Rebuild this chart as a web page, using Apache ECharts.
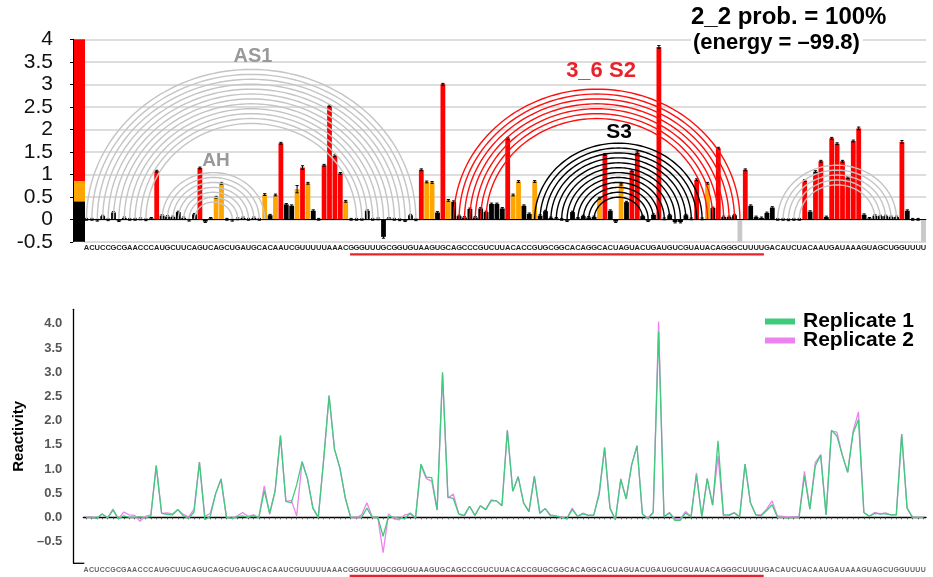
<!DOCTYPE html>
<html><head><meta charset="utf-8">
<script src="https://cdn.jsdelivr.net/npm/echarts@6/dist/echarts.min.js"></script>
<style>html,body{margin:0;padding:0;background:#fff}#c{width:933px;height:577px}</style>
</head><body><div id="c"></div>
<script>
// ---------------- data ----------------
const sequence = "ACUCCGCGAACCCAUGCUUCAGUCAGCUGAUGCACAAUCGUUUUUAAACGGGUUUGCGGUGUAAGUGCAGCCCGUCUUACACCGUGCGGCACAGGCACUAGUACUGAUGUCGUAUACAGGGCUUUUGACAUCUACAAUGAUAAAGUAGCUGGUUUU".split('');

const rep1 = [
  0, 0, -0.02, 0.07, -0.01, 0.15, -0.03, 0.03, 0, 0,
  0.01, -0.01, 0.02, 1.07, 0.08, 0.06, 0.05, 0.16, 0.03, -0.02,
  0.11, 1.14, -0.05, 0.02, 0.49, 0.80, 0, -0.02, 0.01, 0.03,
  0, 0.03, 0, 0.55, 0.09, 0.54, 1.69, 0.33, 0.30, 0.67,
  1.15, 0.80, 0.19, 0, 1.20, 2.52, 1.41, 1.02, 0.40, 0,
  0, 0, 0.19, 0, 0.01, -0.39, 0.02, 0, -0.01, -0.03,
  0.09, -0.01, 1.10, 0.83, 0.82, 0.15, 3.00, 0.42, 0.39, 0.07,
  0.04, 0.23, 0.04, 0.24, 0.16, 0.34, 0.34, 0.24, 1.80, 0.54,
  0.84, 0.30, 0.12, 0.84, 0.08, 0.18, 0.03, 0.02, 0, -0.03,
  0.16, 0.02, 0.07, 0.04, 0.05, 0.47, 1.44, 0.19, -0.05, 0.78,
  0.38, 1.08, 1.48, 0.07, -0.03, 0.10, 3.83, 0.01, 0.09, -0.06,
  -0.06, 0.09, 0.01, 0.88, 0.01, 0.80, 0.25, 1.58, 0.05, 0.05,
  0.09, 0.01, 1.10, 0.30, 0.05, 0.03, 0.14, 0.26, 0, 0,
  -0.01, 0, 0, 0.86, 0.17, 1.06, 1.29, 0.05, 1.80, 1.68,
  1.29, 0.93, 1.74, 2.02, 0.10, 0.02, 0.08, 0.07, 0.07, 0.05,
  0.05, 1.72, 0.19, 0, 0, 0
];

const rep2 = [
  0, 0.01, -0.02, 0.07, -0.01, 0.17, -0.03, 0.11, 0.05, 0.04,
  -0.08, 0.02, 0.05, 1.07, 0.08, 0.09, 0.07, 0.16, 0.06, 0.01,
  0.17, 1.14, 0.02, 0.08, 0.49, 0.77, 0, -0.02, 0.03, 0.10,
  0.02, 0.05, 0, 0.65, 0.06, 0.54, 1.69, 0.33, 0.35, 0.03,
  1.15, 0.80, 0.19, 0, 1.20, 2.50, 1.41, 1.02, 0.40, 0,
  -0.01, 0.05, 0.30, 0, 0.01, -0.73, 0.07, -0.03, -0.05, 0.05,
  0.07, -0.01, 1.07, 0.80, 0.75, 0.15, 2.95, 0.40, 0.48, 0.07,
  0.02, 0.23, 0.04, 0.24, 0.16, 0.36, 0.34, 0.24, 1.80, 0.54,
  0.84, 0.30, 0.12, 0.86, 0.10, 0.18, 0.05, 0.03, 0.01, -0.03,
  0.19, 0.02, 0.09, 0.04, 0.04, 0.52, 1.44, 0.19, -0.05, 0.80,
  0.38, 1.08, 1.48, 0.07, -0.01, 0.10, 4.05, 0.01, 0.10, -0.03,
  -0.03, 0.12, 0.01, 0.92, 0.01, 0.80, 0.25, 1.27, 0.03, 0.03,
  0.10, 0.01, 1.10, 0.30, 0.05, 0.05, 0.17, 0.34, 0.03, 0.02,
  0, 0.01, 0.02, 0.95, 0.17, 1.13, 1.29, 0.05, 1.78, 1.76,
  1.29, 0.93, 1.78, 2.18, 0.10, 0.02, 0.10, 0.07, 0.09, 0.05,
  0.05, 1.72, 0.19, 0, 0, 0
];

const rep1Err = [
  0.02,0.02,0.02,0.02,0.02,0.02,0.02,0.02,0.02,0.02,
  0.02,0.02,0.02,0.02,0.02,0.02,0.02,0.02,0.02,0.02,
  0.02,0.02,0.02,0.02,0.02,0.02,0.02,0.02,0.02,0.02,
  0.02,0.02,0.02,0.02,0.02,0.02,0.02,0.02,0.02,0.08,
  0.04,0.02,0.02,0.02,0.02,0.02,0.02,0.02,0.02,0.02,
  0.02,0.02,0.02,0.02,0.02,0.03,0.02,0.02,0.02,0.02,
  0.02,0.02,0.02,0.02,0.02,0.02,0.02,0.02,0.02,0.02,
  0.02,0.02,0.02,0.02,0.02,0.02,0.02,0.02,0.02,0.02,
  0.02,0.02,0.02,0.02,0.02,0.02,0.02,0.02,0.02,0.02,
  0.02,0.02,0.02,0.02,0.02,0.02,0.02,0.02,0.02,0.02,
  0.02,0.02,0.02,0.02,0.02,0.02,0.03,0.02,0.02,0.02,
  0.02,0.02,0.02,0.02,0.02,0.02,0.02,0.02,0.02,0.02,
  0.02,0.02,0.02,0.02,0.02,0.02,0.02,0.02,0.02,0.02,
  0.02,0.02,0.02,0.02,0.02,0.02,0.02,0.02,0.02,0.02,
  0.02,0.02,0.02,0.03,0.02,0.02,0.02,0.02,0.02,0.02,
  0.02,0.03,0.02,0.02,0.02,0.02
];

const noDataIdx = [121, 155];              // nucleotides without reactivity (0-based)
const colorBreaks = [-0.5, 0.4, 0.85, 4];  // colour scale boundaries
const underlinePos = [50, 126];            // 1-based nucleotide range underlined in red

const arcsAS1 = [[0,61],[1,60],[2,59],[3,58],[4,57],[5,56],[6,55],[7,54],[8,53],[9,52],[10,51],[11,50]];
const arcsAH  = [[14,33],[15,32],[16,31],[17,30],[18,29],[19,28],[20,27]];
const arcsS2  = [[68,121],[69,120],[70,119],[71,118],[72,117],[73,116],[74,115]];
const arcsS3  = [[83,114],[84,113],[85,112],[86,111],[87,110],[88,109],[89,108],[90,107],[91,106],[92,105],[93,104],[94,103]];
const arcsR   = [[128,150],[129,149],[130,148],[131,147],[132,146]];

const topYTicks = {min: -0.5, max: 4, interval: 0.5};
const bottomYRange = {min: -0.95, max: 4.3};

// ---------------- styles ----------------
const FONT = '"Liberation Sans", Arial, Helvetica, sans-serif';
const scaleColors = ['#000000', '#FFA500', '#FF0000'];
const noDataColor = '#C8C8C8';
const arcColors = ['#C4C4C4', '#C4C4C4', '#FF1010', '#000000', '#C4C4C4'];
const ARC_ASPECT = 0.91;
const GREEN = '#3FCB7C', VIOLET = '#EE82EE';

const TOP = {left: 83.8, right: 6.8, top: 39.3, bottom: 577 - 241.8};
const BOT = {left: 83.3, right: 7, top: 309.3, bottom: 577 - 563.3};

function barColor(v) {
  if (v >= colorBreaks[2]) return scaleColors[2];
  if (v >= colorBreaks[1]) return scaleColors[1];
  return scaleColors[0];
}

const barData = sequence.map((_, i) => {
  if (noDataIdx.includes(i)) return {value: colorBreaks[0], itemStyle: {color: noDataColor}};
  return {value: rep1[i], itemStyle: {color: barColor(rep1[i])}};
});
const errData = [];
sequence.forEach((_, i) => { if (!noDataIdx.includes(i)) errData.push([i, rep1[i], rep1Err[i]]); });

const arcData = [];
[arcsAS1, arcsAH, arcsS2, arcsS3, arcsR].forEach((g, gi) => g.forEach(p => arcData.push([p[0], p[1], gi])));

const scaleData = [];
for (let k = 0; k < colorBreaks.length - 1; k++) scaleData.push([0, colorBreaks[k], colorBreaks[k + 1], k]);

function renderArc(params, api) {
  const a = api.coord([api.value(0), 0]);
  const b = api.coord([api.value(1), 0]);
  const cx = (a[0] + b[0]) / 2, rx = (b[0] - a[0]) / 2, ry = rx * ARC_ASPECT;
  const pts = [];
  for (let k = 0; k <= 80; k++) {
    const t = Math.PI * k / 80;
    pts.push([cx - rx * Math.cos(t), a[1] - ry * Math.sin(t)]);
  }
  return {type: 'polyline', shape: {points: pts},
    style: {stroke: arcColors[api.value(2)], lineWidth: 1.4, fill: null}};
}

function renderErr(params, api) {
  const v = api.value(1), e = api.value(2);
  const p1 = api.coord([api.value(0), v - e]);
  const p2 = api.coord([api.value(0), v + e]);
  const w = 1.6;
  const st = {stroke: '#000', lineWidth: 1};
  return {type: 'group', children: [
    {type: 'line', shape: {x1: p1[0], y1: p1[1], x2: p2[0], y2: p2[1]}, style: st},
    {type: 'line', shape: {x1: p1[0] - w, y1: p1[1], x2: p1[0] + w, y2: p1[1]}, style: st},
    {type: 'line', shape: {x1: p2[0] - w, y1: p2[1], x2: p2[0] + w, y2: p2[1]}, style: st}
  ]};
}

function renderScale(params, api) {
  const lo = api.coord([0, api.value(1)]);
  const hi = api.coord([0, api.value(2)]);
  const w = api.size([1, 0])[0];
  return {type: 'rect', shape: {x: lo[0] - w / 2, y: hi[1], width: w, height: lo[1] - hi[1]},
    style: {fill: scaleColors[api.value(3)]}};
}

function makeUnderline(dy) {
  return function (params, api) {
    const a = api.coord([api.value(0) - 1, api.value(2)]);
    const b = api.coord([api.value(1) - 1, api.value(2)]);
    const w = api.size([1, 0])[0];
    return {type: 'line', shape: {x1: a[0] - w * 0.2, y1: a[1] + dy, x2: b[0] + w * 0.45, y2: a[1] + dy},
      style: {stroke: '#E8222A', lineWidth: 2.2}};
  };
}

const chart = echarts.init(document.getElementById('c'), null, {renderer: 'canvas'});

const option = {
  animation: false,
  backgroundColor: '#ffffff',
  textStyle: {fontFamily: FONT},
  grid: [
    {left: TOP.left, right: TOP.right, top: TOP.top, bottom: TOP.bottom},
    {left: 74, width: 11, top: TOP.top, bottom: TOP.bottom},
    {left: BOT.left, right: BOT.right, top: BOT.top, bottom: BOT.bottom}
  ],
  xAxis: [
    {type: 'category', gridIndex: 0, data: sequence, boundaryGap: true,
      axisLine: {show: false}, axisTick: {show: false},
      axisLabel: {interval: 0, fontSize: 7.5, fontWeight: 'bold', color: '#222', margin: 2, fontFamily: FONT},
      splitLine: {show: false}},
    {type: 'category', gridIndex: 1, data: ['scale'], show: false},
    {type: 'category', gridIndex: 2, data: sequence, boundaryGap: true,
      axisLine: {show: true, lineStyle: {color: '#000', width: 1.3}},
      axisTick: {show: true, interval: 0, alignWithLabel: true, length: 2, lineStyle: {color: '#444', width: 0.8}},
      axisLabel: {interval: 0, fontSize: 7, fontWeight: 'bold', color: '#666', margin: 3, fontFamily: FONT},
      splitLine: {show: false}}
  ],
  yAxis: [
    {type: 'value', gridIndex: 0, min: topYTicks.min, max: topYTicks.max, interval: topYTicks.interval,
      offset: TOP.left - 73,
      axisLine: {show: true, lineStyle: {color: '#000', width: 1}},
      axisTick: {show: true, length: 3, lineStyle: {color: '#000'}},
      axisLabel: {fontSize: 21, color: '#111', margin: 20, fontFamily: FONT,
        formatter: v => String(v)},
      splitLine: {show: true, lineStyle: {color: '#D2D2D2', width: 1.6}}},
    {type: 'value', gridIndex: 1, min: topYTicks.min, max: topYTicks.max, show: false},
    {type: 'value', gridIndex: 2, min: bottomYRange.min, max: bottomYRange.max, splitNumber: 10,
      offset: BOT.left - 73.3,
      name: 'Reactivity', nameLocation: 'middle', nameGap: 41, nameRotate: 90,
      nameTextStyle: {fontSize: 15, fontWeight: 'bold', color: '#000', fontFamily: FONT},
      axisLine: {show: true, lineStyle: {color: '#000', width: 1.3}},
      axisTick: {show: false},
      axisLabel: {fontSize: 13, fontWeight: 'bold', color: '#555', margin: 11, fontFamily: FONT,
        formatter: v => {
          const r = Math.round(v * 2) / 2;
          if (Math.abs(r - v) > 1e-6 || v < -0.5 - 1e-6 || v > 4 + 1e-6) return '';
          return r < 0 ? '\u2013' + Math.abs(r).toFixed(1) : r.toFixed(1);
        }},
      splitLine: {show: false}}
  ],
  legend: {
    orient: 'vertical', left: 765, top: 311, padding: 0, itemGap: -2, itemWidth: 30, itemHeight: 6,
    icon: 'rect', selectedMode: false,
    textStyle: {fontSize: 21, fontWeight: 'bold', color: '#000', lineHeight: 19, fontFamily: FONT, padding: [0, 0, 0, 3]},
    data: ['Replicate 1', 'Replicate 2']
  },
  series: [
    {type: 'custom', name: 'scale', xAxisIndex: 1, yAxisIndex: 1, data: scaleData, renderItem: renderScale, silent: true},
    {type: 'bar', name: 'bars', xAxisIndex: 0, yAxisIndex: 0, data: barData, barWidth: 4.8, silent: true, z: 2,
      markLine: {silent: true, symbol: 'none', label: {show: false},
        lineStyle: {color: '#000', width: 1, type: 'solid'}, data: [{yAxis: 0}]}},
    {type: 'custom', name: 'err', xAxisIndex: 0, yAxisIndex: 0, data: errData, renderItem: renderErr, silent: true, z: 3},
    {type: 'custom', name: 'arcs', xAxisIndex: 0, yAxisIndex: 0, data: arcData, renderItem: renderArc, silent: true, z: 4},
    {type: 'custom', name: 'ul1', xAxisIndex: 0, yAxisIndex: 0, clip: false,
      data: [[underlinePos[0], underlinePos[1], topYTicks.min]], renderItem: makeUnderline(12.5), silent: true},
    {type: 'custom', name: 'ul2', xAxisIndex: 2, yAxisIndex: 2, clip: false,
      data: [[underlinePos[0], underlinePos[1], bottomYRange.min]], renderItem: makeUnderline(12.5), silent: true},
    {type: 'line', name: 'Replicate 2', xAxisIndex: 2, yAxisIndex: 2, data: rep2, symbol: 'none',
      lineStyle: {color: VIOLET, width: 1.3}, itemStyle: {color: VIOLET}, z: 2, silent: true},
    {type: 'line', name: 'Replicate 1', xAxisIndex: 2, yAxisIndex: 2, data: rep1, symbol: 'none',
      lineStyle: {color: GREEN, width: 1.3}, itemStyle: {color: GREEN}, z: 3, silent: true}
  ],
  graphic: [
    {type: 'line', silent: true, shape: {x1: 73.3, y1: 577 - BOT.bottom, x2: BOT.left + 1, y2: 577 - BOT.bottom},
      style: {stroke: '#000', lineWidth: 1.3}},
    {type: 'text', silent: true, z: 100, style: {text: 'AS1', x: 253, y: 56.5, fill: '#999999', font: 'bold 20px ' + FONT, textAlign: 'center', verticalAlign: 'middle'}},
    {type: 'text', silent: true, z: 100, style: {text: 'AH', x: 216, y: 161, fill: '#999999', font: 'bold 19px ' + FONT, textAlign: 'center', verticalAlign: 'middle'}},
    {type: 'text', silent: true, z: 100, style: {text: '3_6 S2', x: 601, y: 71, fill: '#E8222A', font: 'bold 22px ' + FONT, textAlign: 'center', verticalAlign: 'middle'}},
    {type: 'text', silent: true, z: 100, style: {text: 'S3', x: 619, y: 132, fill: '#000', font: 'bold 21px ' + FONT, textAlign: 'center', verticalAlign: 'middle'}},
    {type: 'text', silent: true, z: 100, style: {text: '2_2 prob. = 100%', x: 691, y: 17.5, fill: '#000', font: 'bold 24px ' + FONT, textAlign: 'left', verticalAlign: 'middle'}},
    {type: 'text', silent: true, z: 100, style: {text: '(energy = \u201399.8)', x: 691, y: 42.5, fill: '#000', font: 'bold 22px ' + FONT, textAlign: 'left', verticalAlign: 'middle', backgroundColor: '#fff', padding: [0, 3, 0, 2]}}
  ]
};
chart.setOption(option);
</script>
</body></html>
